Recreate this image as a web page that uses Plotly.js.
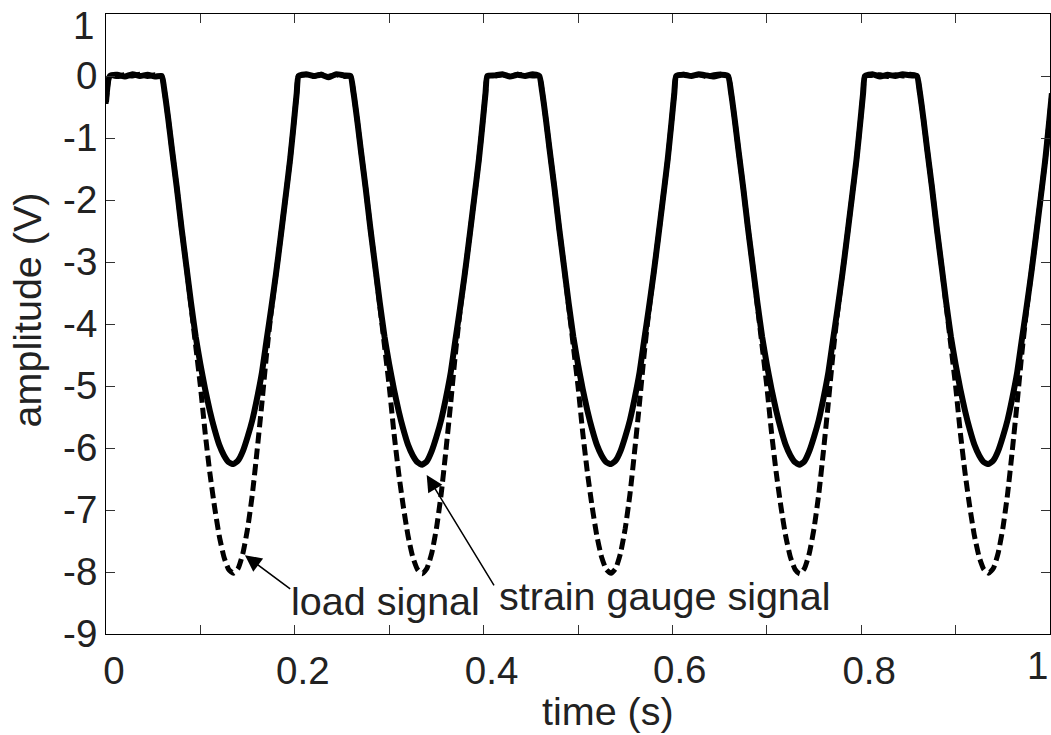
<!DOCTYPE html>
<html>
<head>
<meta charset="utf-8">
<script src="https://cdn.plot.ly/plotly-3.0.1.min.js"></script>
<style>html,body{margin:0;padding:0;background:#fff;}#chart{width:1051px;height:735px;}</style>
</head>
<body>
<div id="chart"></div>
<script>
// time (s), shared by both signals; one line per load cycle
const time = [0.000,
  0.004, 0.012, 0.020, 0.028, 0.036, 0.044, 0.052, 0.059, 0.062, 0.066, 0.070, 0.075, 0.080, 0.085, 0.090, 0.095, 0.100, 0.105, 0.110, 0.115, 0.120, 0.125, 0.130, 0.135, 0.140, 0.145, 0.150, 0.155, 0.160, 0.165, 0.170, 0.175, 0.180, 0.185, 0.190, 0.195, 0.199, 0.202,
  0.204, 0.212, 0.220, 0.228, 0.236, 0.244, 0.252, 0.259, 0.262, 0.266, 0.270, 0.275, 0.280, 0.285, 0.290, 0.295, 0.300, 0.305, 0.310, 0.315, 0.320, 0.325, 0.330, 0.335, 0.340, 0.345, 0.350, 0.355, 0.360, 0.365, 0.370, 0.375, 0.380, 0.385, 0.390, 0.395, 0.399, 0.402,
  0.404, 0.412, 0.420, 0.428, 0.436, 0.444, 0.452, 0.459, 0.462, 0.466, 0.470, 0.475, 0.480, 0.485, 0.490, 0.495, 0.500, 0.505, 0.510, 0.515, 0.520, 0.525, 0.530, 0.535, 0.540, 0.545, 0.550, 0.555, 0.560, 0.565, 0.570, 0.575, 0.580, 0.585, 0.590, 0.595, 0.599, 0.602,
  0.604, 0.612, 0.620, 0.628, 0.636, 0.644, 0.652, 0.659, 0.662, 0.666, 0.670, 0.675, 0.680, 0.685, 0.690, 0.695, 0.700, 0.705, 0.710, 0.715, 0.720, 0.725, 0.730, 0.735, 0.740, 0.745, 0.750, 0.755, 0.760, 0.765, 0.770, 0.775, 0.780, 0.785, 0.790, 0.795, 0.799, 0.802,
  0.804, 0.812, 0.820, 0.828, 0.836, 0.844, 0.852, 0.859, 0.862, 0.866, 0.870, 0.875, 0.880, 0.885, 0.890, 0.895, 0.900, 0.905, 0.910, 0.915, 0.920, 0.925, 0.930, 0.935, 0.940, 0.945, 0.950, 0.955, 0.960, 0.965, 0.970, 0.975, 0.980, 0.985, 0.990, 0.995, 0.999, 1.002];

// strain gauge signal (V), solid line
const strainGauge = [-0.42,
  0, 0.02, -0.01, 0.03, 0.00, 0.02, -0.01, 0, -0.25, -0.70, -1.20, -1.80, -2.45, -3.05, -3.65, -4.20, -4.65, -5.05, -5.40, -5.70, -5.95, -6.12, -6.23, -6.26, -6.20, -6.05, -5.82, -5.55, -5.20, -4.80, -4.27, -3.75, -3.20, -2.60, -1.98, -1.35, -0.75, -0.28,
  0, 0.03, 0.00, 0.02, -0.02, 0.03, 0.01, 0, -0.25, -0.70, -1.20, -1.80, -2.45, -3.05, -3.65, -4.20, -4.65, -5.05, -5.40, -5.70, -5.95, -6.12, -6.23, -6.27, -6.21, -6.05, -5.82, -5.55, -5.20, -4.80, -4.27, -3.75, -3.20, -2.60, -1.98, -1.35, -0.75, -0.28,
  0, 0.01, 0.03, -0.01, 0.02, 0.00, 0.03, 0, -0.25, -0.70, -1.20, -1.80, -2.45, -3.05, -3.65, -4.20, -4.65, -5.05, -5.40, -5.70, -5.95, -6.12, -6.23, -6.26, -6.20, -6.05, -5.82, -5.55, -5.20, -4.80, -4.27, -3.75, -3.20, -2.60, -1.98, -1.35, -0.75, -0.28,
  0, 0.02, 0.00, 0.03, 0.01, -0.01, 0.02, 0, -0.25, -0.70, -1.20, -1.80, -2.45, -3.05, -3.65, -4.20, -4.65, -5.05, -5.40, -5.70, -5.95, -6.12, -6.23, -6.27, -6.21, -6.05, -5.82, -5.55, -5.20, -4.80, -4.27, -3.75, -3.20, -2.60, -1.98, -1.35, -0.75, -0.28,
  0, 0.03, -0.01, 0.02, 0.00, 0.03, 0.01, 0, -0.25, -0.70, -1.20, -1.80, -2.45, -3.05, -3.65, -4.20, -4.65, -5.05, -5.40, -5.70, -5.95, -6.12, -6.23, -6.26, -6.20, -6.05, -5.82, -5.55, -5.20, -4.80, -4.27, -3.75, -3.20, -2.60, -1.98, -1.35, -0.75, -0.28];

// load signal (V), dashed line
const loadSignal = [-0.45,
  0, -0.01, 0.02, 0.00, 0.03, -0.01, 0.02, 0, -0.25, -0.70, -1.20, -1.80, -2.45, -3.05, -3.70, -4.35, -5.00, -5.75, -6.40, -6.95, -7.42, -7.76, -7.96, -8.02, -7.94, -7.70, -7.30, -6.75, -6.05, -5.30, -4.50, -3.80, -3.20, -2.60, -1.98, -1.35, -0.75, -0.28,
  0, 0.02, -0.01, 0.03, 0.00, 0.02, -0.01, 0, -0.25, -0.70, -1.20, -1.80, -2.45, -3.05, -3.70, -4.35, -5.00, -5.75, -6.40, -6.95, -7.42, -7.76, -7.96, -8.03, -7.94, -7.70, -7.30, -6.75, -6.05, -5.30, -4.50, -3.80, -3.20, -2.60, -1.98, -1.35, -0.75, -0.28,
  0, 0.00, 0.02, -0.01, 0.03, 0.01, 0.00, 0, -0.25, -0.70, -1.20, -1.80, -2.45, -3.05, -3.70, -4.35, -5.00, -5.75, -6.40, -6.95, -7.42, -7.76, -7.96, -8.02, -7.94, -7.70, -7.30, -6.75, -6.05, -5.30, -4.50, -3.80, -3.20, -2.60, -1.98, -1.35, -0.75, -0.28,
  0, 0.03, 0.00, 0.02, -0.01, 0.02, 0.03, 0, -0.25, -0.70, -1.20, -1.80, -2.45, -3.05, -3.70, -4.35, -5.00, -5.75, -6.40, -6.95, -7.42, -7.76, -7.96, -8.03, -7.94, -7.70, -7.30, -6.75, -6.05, -5.30, -4.50, -3.80, -3.20, -2.60, -1.98, -1.35, -0.75, -0.28,
  0, 0.01, 0.02, -0.01, 0.02, 0.00, 0.03, 0, -0.25, -0.70, -1.20, -1.80, -2.45, -3.05, -3.70, -4.35, -5.00, -5.75, -6.40, -6.95, -7.42, -7.76, -7.96, -8.02, -7.94, -7.70, -7.30, -6.75, -6.05, -5.30, -4.50, -3.80, -3.20, -2.60, -1.98, -1.35, -0.75, -0.28];

// ticks every 0.1 s / 1 V; labels every 0.2 s. The "0.6" and the two "1" labels sit slightly
// off the regular label row in the original, so they are placed as separate texts below.
const xTickVals = [0, 0.1, 0.2, 0.3, 0.4, 0.5, 0.6, 0.7, 0.8, 0.9, 1];
const xTickText = ['0', '', '0.2', '', '0.4', '', '', '', '0.8', '', ''];
const yTickVals = [-9, -8, -7, -6, -5, -4, -3, -2, -1, 0, 1];
const yTickText = ['-9', '-8', '-7', '-6', '-5', '-4', '-3', '-2', '-1', '0', ''];

const FONT = 'Liberation Sans, Arial, Helvetica, sans-serif';
const TXT = '#222222';
const TICK_SIZE = 38.5;
const TEXT_SIZE = 39.5;

const traces = [
  {x: time, y: loadSignal, type: 'scatter', mode: 'lines', name: 'load signal',
   line: {color: '#000', width: 5, dash: '11px,5px', shape: 'spline', smoothing: 0.5}},
  {x: time, y: strainGauge, type: 'scatter', mode: 'lines', name: 'strain gauge signal',
   line: {color: '#000', width: 6, shape: 'spline', smoothing: 0.5}}
];

const axisCommon = {
  showline: true, linecolor: '#000', linewidth: 1, mirror: 'ticks',
  ticks: 'inside', ticklen: 9, tickwidth: 1, tickcolor: '#333',
  showgrid: false, zeroline: false,
  tickfont: {family: FONT, size: TICK_SIZE, color: TXT}
};

const tickFont = {family: FONT, size: TICK_SIZE, color: TXT};
const textFont = {family: FONT, size: TEXT_SIZE, color: TXT};

const layout = {
  width: 1051, height: 735,
  margin: {l: 106, r: 1, t: 14, b: 101},
  paper_bgcolor: '#fff', plot_bgcolor: '#fff',
  showlegend: false,
  xaxis: Object.assign({}, axisCommon, {range: [0, 1], tickmode: 'array', tickvals: xTickVals, ticktext: xTickText,
    ticklabelstandoff: 3, ticklabelshift: 8}),
  yaxis: Object.assign({}, axisCommon, {range: [-9, 1], tickmode: 'array', tickvals: yTickVals, ticktext: yTickText}),
  annotations: [
    {text: '0.6', xref: 'x', yref: 'paper', x: 0.608, y: -0.019, showarrow: false, xanchor: 'center', yanchor: 'top', font: tickFont},
    {text: '1', xref: 'paper', yref: 'paper', x: 1.0, y: -0.0129, showarrow: false, xanchor: 'right', yanchor: 'top', font: tickFont},
    {text: '1', xref: 'paper', yref: 'paper', x: -0.0106, y: 1.019, showarrow: false, xanchor: 'right', yanchor: 'top', font: tickFont},
    {text: 'time (s)', xref: 'paper', yref: 'paper', x: 0.532, y: -0.1234, showarrow: false, xanchor: 'center', yanchor: 'middle', font: textFont},
    {text: 'amplitude (V)', xref: 'paper', yref: 'paper', x: -0.084, y: 0.523, textangle: -90, showarrow: false,
     xanchor: 'center', yanchor: 'middle', font: textFont},
    {text: 'load signal', xref: 'x', yref: 'y', x: 0.2956, y: -8.47, showarrow: false, xanchor: 'center', yanchor: 'middle', font: textFont},
    {text: 'strain gauge signal', xref: 'x', yref: 'y', x: 0.592, y: -8.39, showarrow: false, xanchor: 'center', yanchor: 'middle', font: textFont},
    {text: '', xref: 'x', yref: 'y', axref: 'x', ayref: 'y', x: 0.1472, y: -7.73, ax: 0.1967, ay: -8.29,
     showarrow: true, arrowhead: 2, arrowsize: 2.2, arrowwidth: 1.5, arrowcolor: '#000', standoff: 0},
    {text: '', xref: 'x', yref: 'y', axref: 'x', ayref: 'y', x: 0.3397, y: -6.435, ax: 0.412, ay: -8.24,
     showarrow: true, arrowhead: 2, arrowsize: 2.2, arrowwidth: 1.5, arrowcolor: '#000', standoff: 0}
  ]
};

Plotly.newPlot('chart', traces, layout, {displayModeBar: false, staticPlot: true});
</script>
</body>
</html>
